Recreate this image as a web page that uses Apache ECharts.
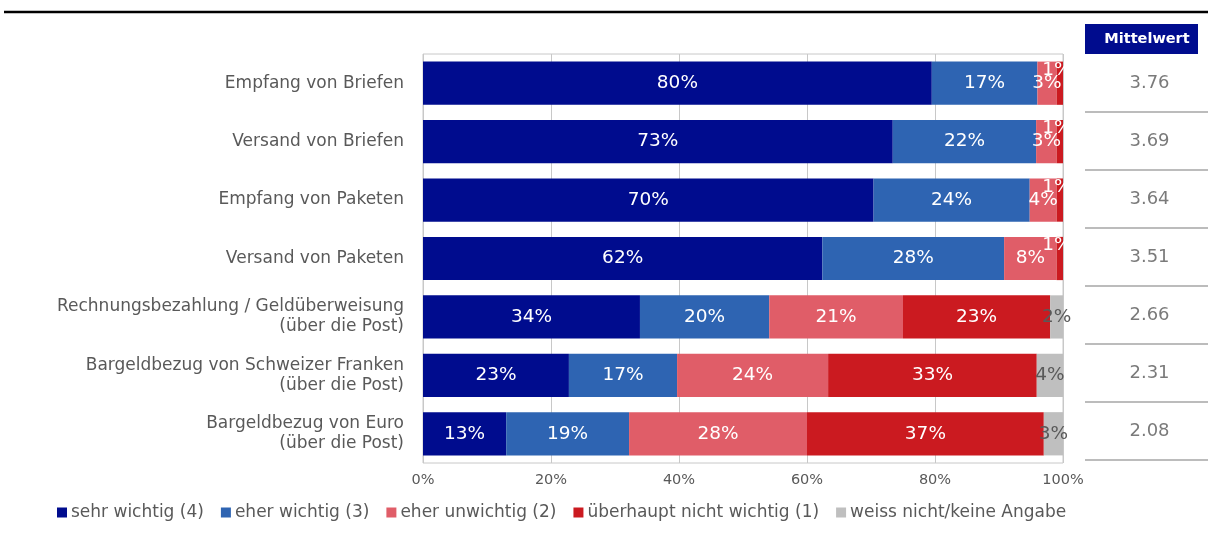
<!DOCTYPE html>
<html><head><meta charset="utf-8">
<script src="https://cdn.jsdelivr.net/npm/echarts@6/dist/echarts.min.js"></script>
<style>html,body{margin:0;padding:0;background:#fff}#c{width:1208px;height:538px}</style>
</head><body><div id="c"></div>
<script>
var categories = [
  'Empfang von Briefen',
  'Versand von Briefen',
  'Empfang von Paketen',
  'Versand von Paketen',
  'Rechnungsbezahlung / Geldüberweisung\n(über die Post)',
  'Bargeldbezug von Schweizer Franken\n(über die Post)',
  'Bargeldbezug von Euro\n(über die Post)'
];
var seriesNames = ['sehr wichtig (4)', 'eher wichtig (3)', 'eher unwichtig (2)', 'überhaupt nicht wichtig (1)', 'weiss nicht/keine Angabe'];
var sehrWichtig   = [79.5, 73.4, 70.4, 62.4, 33.9, 22.8, 13.0];
var eherWichtig   = [16.5, 22.4, 24.4, 28.4, 20.2, 16.9, 19.2];
var eherUnwichtig = [3.0, 3.2, 4.2, 8.2, 20.9, 23.6, 27.8];
var nichtWichtig  = [1.0, 1.0, 1.0, 1.0, 23.0, 32.6, 37.0];
var weissNicht    = [0, 0, 0, 0, 2.0, 4.1, 3.0];
var mittelwert    = [3.76, 3.69, 3.64, 3.51, 2.66, 2.31, 2.08];
var meanHeader    = 'Mittelwert';
var xTicks = [0, 20, 40, 60, 80, 100];

var colors = ['#000c8e', '#2e64b2', '#e05d68', '#cb1a20', '#bfbfbf'];
var txt = '#595959';
var font = 'DejaVu Sans';

function pct(p){ var v = Math.round(p.value); return v > 0 ? v + '%' : ''; }

function mkSeries(idx, values){
  return {
    name: seriesNames[idx], type: 'bar', stack: 'total',
    xAxisIndex: 0, yAxisIndex: 0,
    barCategoryGap: '26%',
    itemStyle: { color: colors[idx] },
    label: { show: true, position: 'inside', color: idx === 4 ? txt : '#fff',
             fontFamily: font, fontSize: 18.5, formatter: pct },
    data: values.map(function(v){
      if (idx === 3 && v > 0 && v < 2) {
        return { value: v, label: { position: 'insideTop', distance: 0, offset: [-3, -1] } };
      }
      return v;
    })
  };
}

var chart = echarts.init(document.getElementById('c'));
chart.setOption({
  animation: false,
  textStyle: { fontFamily: font },
  graphic: [
    { type: 'line', shape: { x1: 4, y1: 12, x2: 1208, y2: 12 },
      style: { stroke: '#000', lineWidth: 2.5 } },
    { type: 'rect', shape: { x: 1085, y: 24, width: 113, height: 30 },
      style: { fill: '#000c8e' } },
    { type: 'text', x: 1147, y: 39.5,
      style: { text: meanHeader, fill: '#fff', font: 'bold 14.5px "DejaVu Sans"',
               align: 'center', verticalAlign: 'middle' } }
  ],
  legend: {
    bottom: 12, left: 52, icon: 'rect', itemWidth: 10, itemHeight: 10, itemGap: 17,
    textStyle: { color: txt, fontSize: 17, fontFamily: font, padding: [0, 0, 0, -1] },
    data: seriesNames
  },
  grid: [
    { left: 423, right: 145, top: 54, bottom: 75, show: true, borderColor: '#c8c8c8', borderWidth: 1 },
    { left: 1085, right: 0, top: 54, bottom: 78 }
  ],
  xAxis: [
    { type: 'value', gridIndex: 0, min: 0, max: 100, interval: 20,
      axisLine: { show: false }, axisTick: { show: false },
      splitLine: { show: true, lineStyle: { color: '#c8c8c8' } },
      axisLabel: { formatter: '{value}%', color: txt, fontSize: 14.5, margin: 10 } },
    { type: 'category', gridIndex: 1, data: [meanHeader], show: false }
  ],
  yAxis: [
    { type: 'category', gridIndex: 0, inverse: true, data: categories,
      axisLine: { show: false }, axisTick: { show: false },
      axisLabel: { color: txt, fontSize: 17, margin: 19, lineHeight: 20, fontFamily: font } },
    { type: 'category', gridIndex: 1, inverse: true, data: categories,
      axisLine: { show: false }, axisTick: { show: false }, axisLabel: { show: false },
      splitLine: { show: true, showMinLine: false, lineStyle: { color: '#a6a6a6', width: 1.5 } } }
  ],
  series: [
    mkSeries(0, sehrWichtig),
    mkSeries(1, eherWichtig),
    mkSeries(2, eherUnwichtig),
    mkSeries(3, nichtWichtig),
    mkSeries(4, weissNicht),
    { type: 'scatter', xAxisIndex: 1, yAxisIndex: 1, symbolSize: 0, silent: true,
      encode: { x: 0, y: 1 },
      label: { show: true, position: 'inside', color: txt, fontSize: 18, fontFamily: font,
               offset: [3, 0],
               formatter: function(p){ return p.value[2].toFixed(2); } },
      data: categories.map(function(c, i){ return [meanHeader, c, mittelwert[i]]; }) }
  ]
});
</script>
</body></html>
